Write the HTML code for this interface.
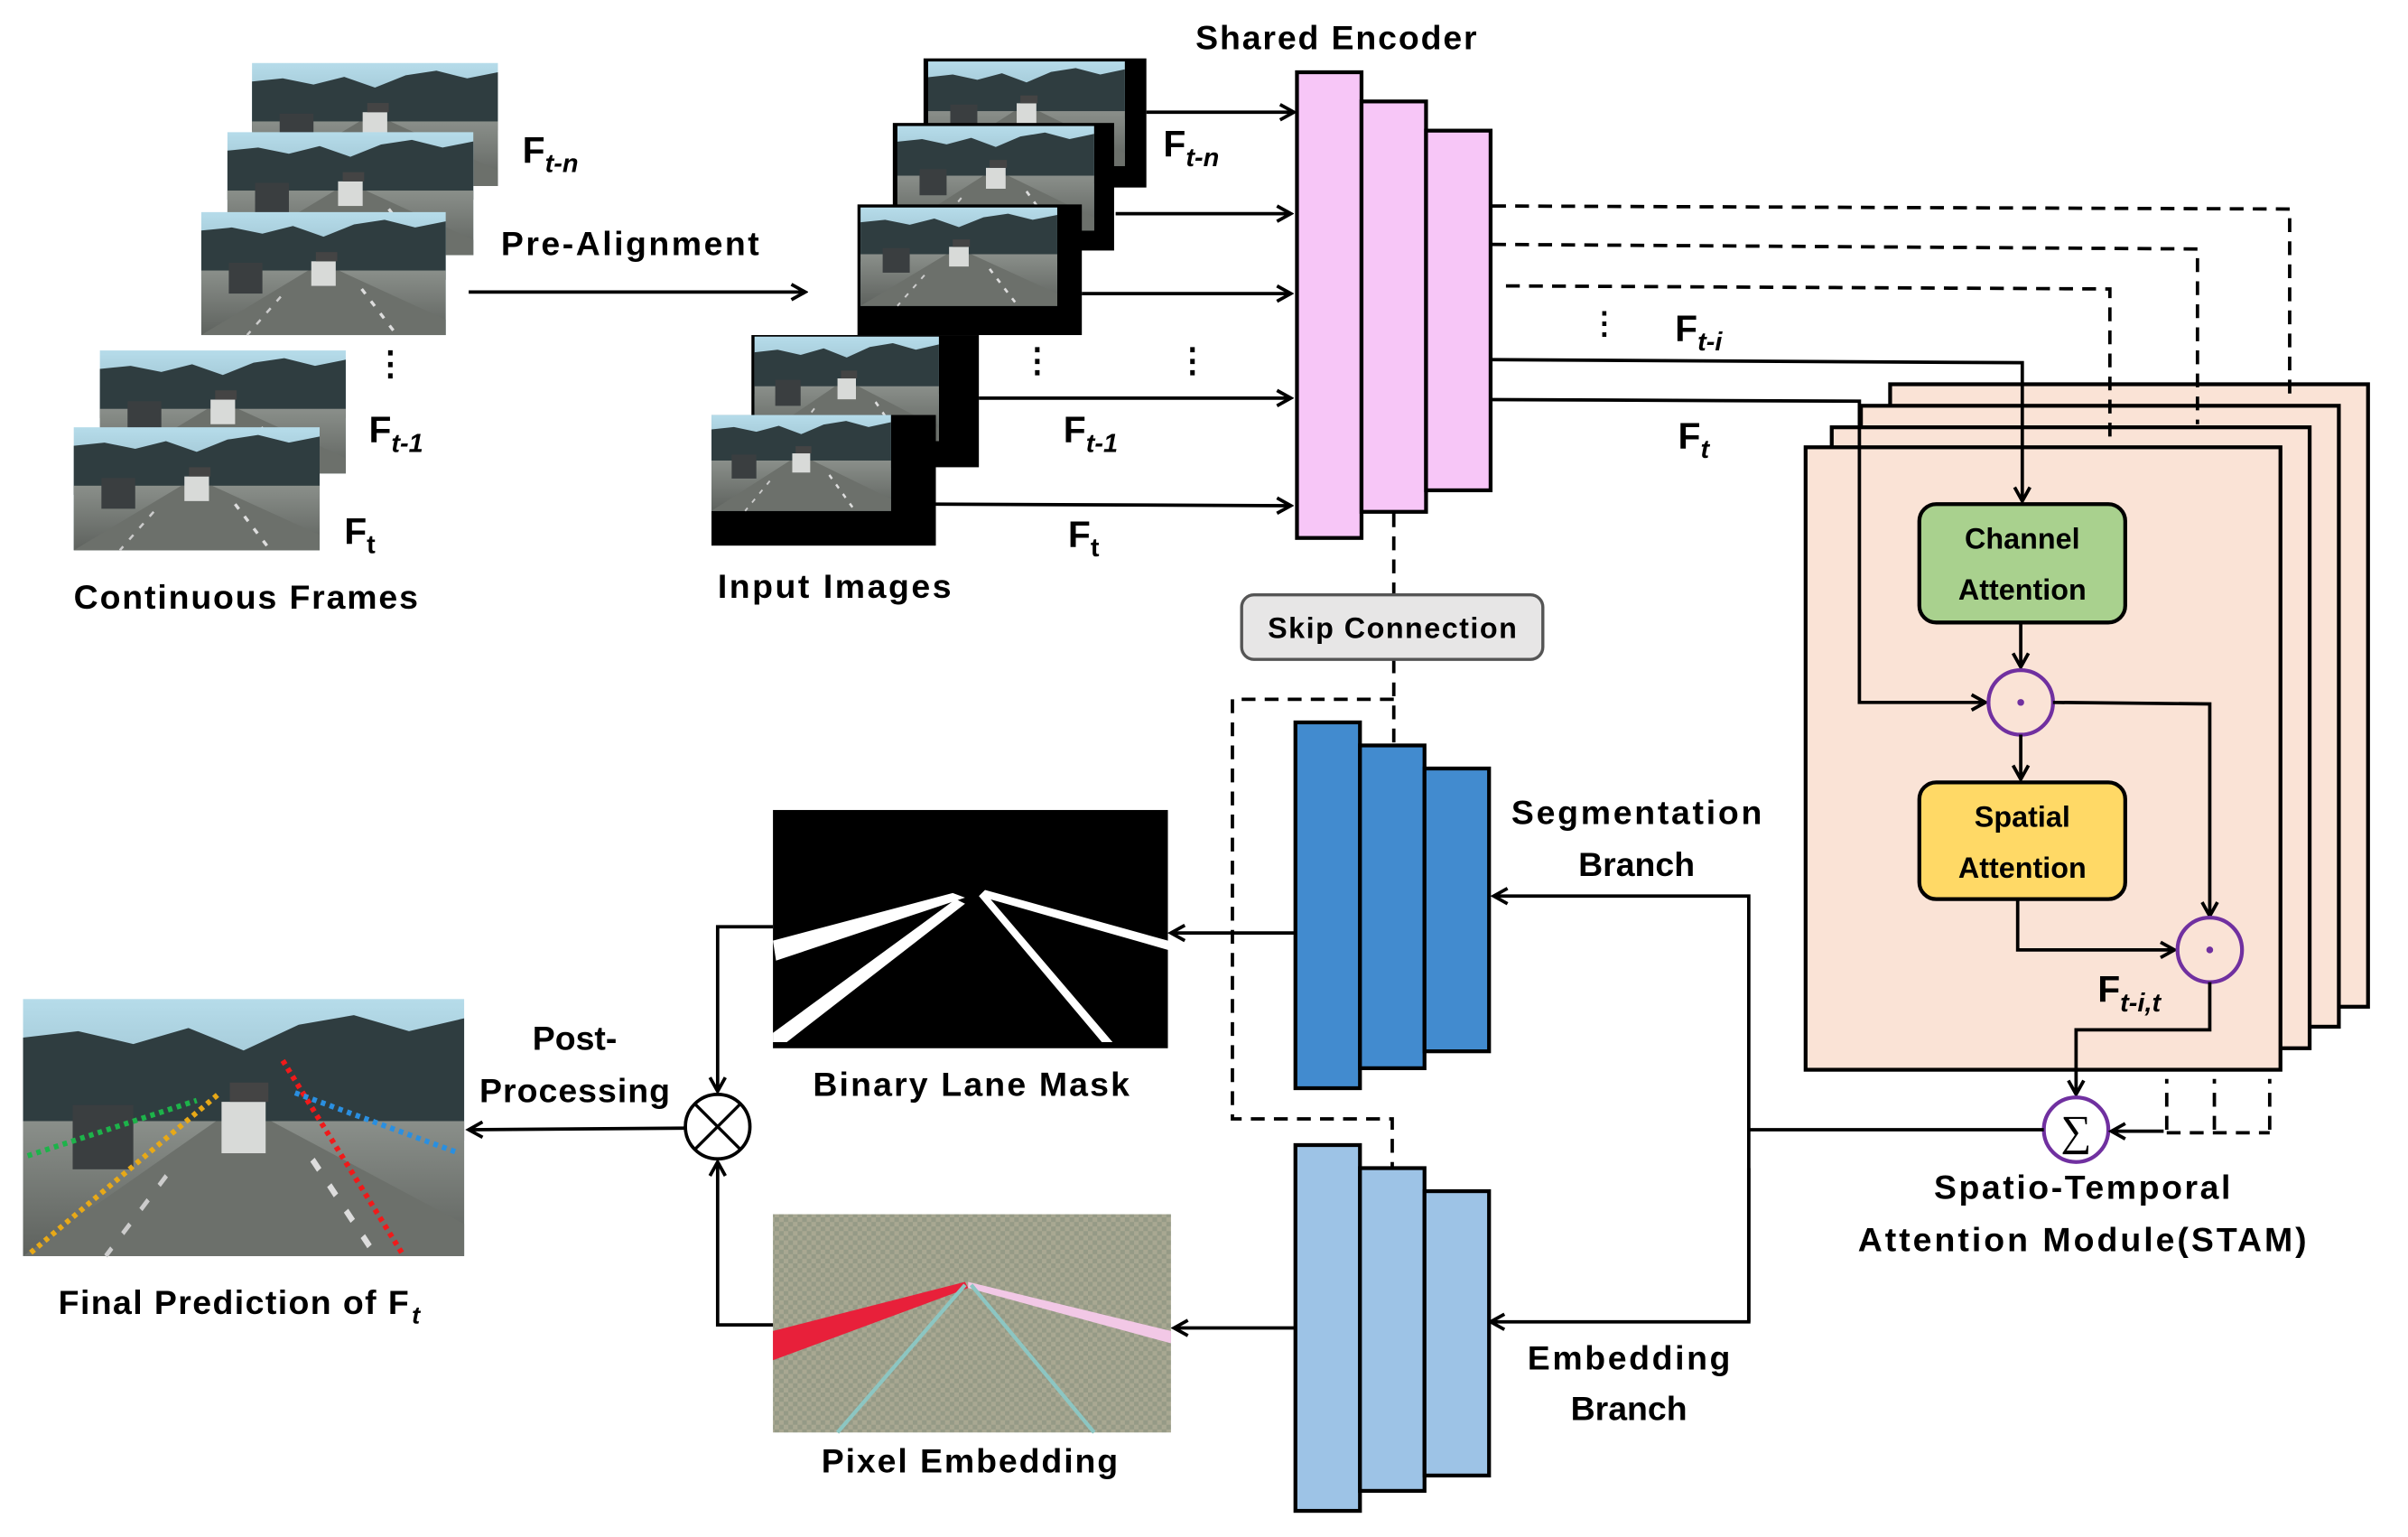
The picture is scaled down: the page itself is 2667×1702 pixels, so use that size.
<!DOCTYPE html>
<html><head><meta charset="utf-8"><style>
html,body{margin:0;padding:0;background:#fff;}
svg{display:block;}
text{font-family:"Liberation Sans",sans-serif;font-weight:bold;fill:#000;}
</style></head><body>
<svg width="2667" height="1702" viewBox="0 0 1567 1000" preserveAspectRatio="none" xmlns="http://www.w3.org/2000/svg">
<defs>
<linearGradient id="sky" x1="0" y1="0" x2="0" y2="1"><stop offset="0" stop-color="#b6dcea"/><stop offset="1" stop-color="#6f92a0"/></linearGradient>
<linearGradient id="road" x1="0" y1="0" x2="0" y2="1"><stop offset="0" stop-color="#8a8f8a"/><stop offset="1" stop-color="#5e625e"/></linearGradient>
<g id="photo">
<rect x="0" y="0" width="160" height="80" fill="url(#sky)"/>
<path d="M0 12 L20 10 L40 14 L60 9 L80 16 L100 8 L120 5 L140 10 L160 6 L160 44 L0 44Z" fill="#2f3d40"/>
<rect x="0" y="38" width="160" height="42" fill="url(#road)"/>
<path d="M0 80 L70 38 L90 38 L160 70 L160 80Z" fill="#6c706b"/>
<rect x="18" y="33" width="22" height="20" fill="#3a3e40"/>
<rect x="72" y="32" width="16" height="16" fill="#d8dad8"/>
<rect x="75" y="26" width="14" height="6" fill="#444"/>
<path d="M105 50 L128 80" stroke="#ddd" stroke-width="2" stroke-dasharray="4 6"/>
<path d="M52 55 L30 80" stroke="#ccc" stroke-width="1.5" stroke-dasharray="4 6"/>
</g>
<marker id="ah" markerWidth="12" markerHeight="12" refX="10" refY="6" orient="auto" markerUnits="userSpaceOnUse"><path d="M1 1 L10 6 L1 11" fill="none" stroke="#000" stroke-width="2.2"/></marker>
<pattern id="chk" width="6" height="6" patternUnits="userSpaceOnUse"><rect width="6" height="6" fill="#a9a892"/><rect width="3" height="3" fill="#959a86"/><rect x="3" y="3" width="3" height="3" fill="#959a86"/></pattern>
</defs>

<use href="#photo" transform="translate(164,41)"/>
<use href="#photo" transform="translate(148,86)"/>
<use href="#photo" transform="translate(131,138) scale(0.994,1)"/>
<use href="#photo" transform="translate(65,228)"/>
<use href="#photo" transform="translate(48,278)"/>
<text x="340" y="106" font-size="24">F<tspan font-size="17" font-style="italic" dy="6">t-n</tspan></text>
<text x="326" y="166" font-size="22" textLength="168">Pre-Alignment</text>
<line x1="305" y1="190" x2="524" y2="190" stroke="#000" stroke-width="2.2" marker-end="url(#ah)"/>
<text x="243" y="244" font-size="22">⋮</text>
<text x="240" y="288" font-size="24">F<tspan font-size="17" font-style="italic" dy="6">t-1</tspan></text>
<text x="224" y="354" font-size="24">F<tspan font-size="17" dy="6">t</tspan></text>
<text x="48" y="396" font-size="22" textLength="224">Continuous Frames</text>

<rect x="601" y="38" width="145" height="84" fill="#000"/>
<use href="#photo" transform="translate(604,40) scale(0.8,0.85)"/>
<rect x="581" y="80" width="144" height="83" fill="#000"/>
<use href="#photo" transform="translate(584,82) scale(0.8,0.85)"/>
<rect x="558" y="133" width="146" height="85" fill="#000"/>
<use href="#photo" transform="translate(560,135) scale(0.8,0.8)"/>
<rect x="489" y="218" width="148" height="86" fill="#000"/>
<use href="#photo" transform="translate(491,219) scale(0.75,0.85)"/>
<rect x="463" y="270" width="146" height="85" fill="#000"/>
<use href="#photo" transform="translate(463,270) scale(0.73,0.78)"/>
<line x1="746" y1="73" x2="842" y2="73" stroke="#000" stroke-width="2.2" marker-end="url(#ah)"/>
<line x1="726" y1="139" x2="840" y2="139" stroke="#000" stroke-width="2.2" marker-end="url(#ah)"/>
<line x1="704" y1="191" x2="840" y2="191" stroke="#000" stroke-width="2.2" marker-end="url(#ah)"/>
<line x1="637" y1="259" x2="840" y2="259" stroke="#000" stroke-width="2.2" marker-end="url(#ah)"/>
<line x1="609" y1="328" x2="840" y2="329" stroke="#000" stroke-width="2.2" marker-end="url(#ah)"/>
<text x="757" y="102" font-size="24">F<tspan font-size="17" font-style="italic" dy="6">t-n</tspan></text>
<text x="664" y="242" font-size="22">⋮</text>
<text x="765" y="242" font-size="22">⋮</text>
<text x="692" y="288" font-size="24">F<tspan font-size="17" font-style="italic" dy="6">t-1</tspan></text>
<text x="695" y="356" font-size="24">F<tspan font-size="17" dy="6">t</tspan></text>
<text x="467" y="389" font-size="22" textLength="152">Input Images</text>

<text x="778" y="32" font-size="22" textLength="183">Shared Encoder</text>
<rect x="844" y="47" width="42" height="303" fill="#f7c6f7" stroke="#000" stroke-width="2.5"/>
<rect x="886" y="66" width="42" height="267" fill="#f7c6f7" stroke="#000" stroke-width="2.5"/>
<rect x="928" y="85" width="42" height="234" fill="#f7c6f7" stroke="#000" stroke-width="2.5"/>

<rect x="1230" y="250" width="311" height="405" fill="#fae3d6" stroke="#000" stroke-width="2.5"/>
<rect x="1211" y="264" width="311" height="404" fill="#fae3d6" stroke="#000" stroke-width="2.5"/>
<rect x="1192" y="278" width="311" height="404" fill="#fae3d6" stroke="#000" stroke-width="2.5"/>
<rect x="1175" y="291" width="309" height="405" fill="#fae3d6" stroke="#000" stroke-width="2.5"/>

<g fill="none" stroke="#000" stroke-width="2.2" stroke-dasharray="9 6">
<path d="M971 134 L1490 136 L1490 256"/>
<path d="M971 159 L1430 162 L1430 276"/>
<path d="M980 186 L1373 188 L1373 290"/>
<path d="M907 334 L907 387"/>
<path d="M907 429 L907 485"/>
<path d="M907 455 L802 455 L802 728 L906 728 L906 760"/>
<path d="M1410 735 L1410 702 M1441 735 L1441 702 M1477 735 L1477 702 M1410 737 L1477 737"/>
</g>
<text x="1034" y="217" font-size="20">⋮</text>
<text x="1090" y="222" font-size="24">F<tspan font-size="17" font-style="italic" dy="6">t-i</tspan></text>
<text x="1092" y="292" font-size="24">F<tspan font-size="17" font-style="italic" dy="6">t</tspan></text>
<path d="M971 234 L1316 236 L1316 326" fill="none" stroke="#000" stroke-width="2.2" marker-end="url(#ah)"/>
<path d="M971 260 L1210 261 L1210 457 L1292 457" fill="none" stroke="#000" stroke-width="2.2" marker-end="url(#ah)"/>

<rect x="1249" y="328" width="134" height="77" rx="11" fill="#a9d18e" stroke="#000" stroke-width="2.5"/>
<text x="1316" y="357" font-size="19" text-anchor="middle">Channel</text>
<text x="1316" y="390" font-size="19" text-anchor="middle">Attention</text>
<line x1="1315" y1="405" x2="1315" y2="434" stroke="#000" stroke-width="2.2" marker-end="url(#ah)"/>
<circle cx="1315" cy="457" r="21" fill="none" stroke="#7030a0" stroke-width="2.5"/>
<circle cx="1315" cy="457" r="2.2" fill="#7030a0"/>
<line x1="1315" y1="478" x2="1315" y2="507" stroke="#000" stroke-width="2.2" marker-end="url(#ah)"/>
<path d="M1336 457 L1438 458 L1438 596" fill="none" stroke="#000" stroke-width="2.2" marker-end="url(#ah)"/>
<rect x="1249" y="509" width="134" height="76" rx="11" fill="#ffd966" stroke="#000" stroke-width="2.5"/>
<text x="1316" y="538" font-size="19" text-anchor="middle">Spatial</text>
<text x="1316" y="571" font-size="19" text-anchor="middle">Attention</text>
<path d="M1313 585 L1313 618 L1415 618" fill="none" stroke="#000" stroke-width="2.2" marker-end="url(#ah)"/>
<circle cx="1438" cy="618" r="21" fill="none" stroke="#7030a0" stroke-width="2.5"/>
<circle cx="1438" cy="618" r="2.2" fill="#7030a0"/>
<path d="M1438 639 L1438 670 L1351 670 L1351 712" fill="none" stroke="#000" stroke-width="2.2" marker-end="url(#ah)"/>
<text x="1365" y="652" font-size="24">F<tspan font-size="17" font-style="italic" dy="6">t-i,t</tspan></text>
<circle cx="1351" cy="735" r="21" fill="#fff" stroke="#7030a0" stroke-width="2.5"/>
<text x="1351" y="745" font-size="28" text-anchor="middle" style="font-family:'Liberation Serif',serif;font-weight:normal">∑</text>
<line x1="1408" y1="736" x2="1374" y2="736" stroke="#000" stroke-width="2.2" marker-end="url(#ah)"/>
<text x="1355" y="780" font-size="22" text-anchor="middle" textLength="193">Spatio-Temporal</text>
<text x="1355" y="814" font-size="22" text-anchor="middle" textLength="292">Attention Module(STAM)</text>

<path d="M1330 735 L1138 735" fill="none" stroke="#000" stroke-width="2.2"/>
<path d="M1138 860 L1138 583 L972 583" fill="none" stroke="#000" stroke-width="2.2" marker-end="url(#ah)"/>
<path d="M1138 760 L1138 860 L970 860" fill="none" stroke="#000" stroke-width="2.2" marker-end="url(#ah)"/>

<rect x="808" y="387" width="196" height="42" rx="8" fill="#e7e6e6" stroke="#555" stroke-width="2"/>
<text x="906" y="415" font-size="19" text-anchor="middle" textLength="162">Skip Connection</text>

<rect x="843" y="470" width="42" height="238" fill="#428bcf" stroke="#000" stroke-width="2.5"/>
<rect x="885" y="485" width="42" height="210" fill="#428bcf" stroke="#000" stroke-width="2.5"/>
<rect x="927" y="500" width="42" height="184" fill="#428bcf" stroke="#000" stroke-width="2.5"/>
<rect x="843" y="745" width="42" height="238" fill="#9dc3e6" stroke="#000" stroke-width="2.5"/>
<rect x="885" y="760" width="42" height="210" fill="#9dc3e6" stroke="#000" stroke-width="2.5"/>
<rect x="927" y="775" width="42" height="185" fill="#9dc3e6" stroke="#000" stroke-width="2.5"/>
<text x="1065" y="536" font-size="22" text-anchor="middle" textLength="163">Segmentation</text>
<text x="1065" y="570" font-size="22" text-anchor="middle">Branch</text>
<text x="1060" y="891" font-size="22" text-anchor="middle" textLength="132">Embedding</text>
<text x="1060" y="924" font-size="22" text-anchor="middle">Branch</text>

<rect x="503" y="527" width="257" height="155" fill="#000"/>
<g fill="#fff">
<polygon points="503,612 620,581 628,584 505,625"/>
<polygon points="503,672 622,585 628,588 512,678 503,678"/>
<polygon points="641,579 760,612 760,618 637,583"/>
<polygon points="637,583 642,582 724,678 717,678"/>
</g>
<line x1="842" y1="607" x2="762" y2="607" stroke="#000" stroke-width="2.2" marker-end="url(#ah)"/>
<text x="632" y="713" font-size="22" text-anchor="middle" textLength="206">Binary Lane Mask</text>

<rect x="503" y="790" width="259" height="142" fill="url(#chk)"/>
<polygon points="503,866 628,834 630,838 503,885" fill="#e8203a"/>
<polygon points="630,834 762,866 762,874 630,838" fill="#f2c8e6"/>
<line x1="628" y1="836" x2="545" y2="932" stroke="#8cc6c2" stroke-width="2.5"/>
<line x1="632" y1="836" x2="712" y2="932" stroke="#8cc6c2" stroke-width="2.5"/>
<line x1="842" y1="864" x2="764" y2="864" stroke="#000" stroke-width="2.2" marker-end="url(#ah)"/>
<text x="631" y="958" font-size="22" text-anchor="middle" textLength="193">Pixel Embedding</text>

<path d="M503 603 L467 603 L467 710" fill="none" stroke="#000" stroke-width="2.2" marker-end="url(#ah)"/>
<path d="M503 862 L467 862 L467 756" fill="none" stroke="#000" stroke-width="2.2" marker-end="url(#ah)"/>
<circle cx="467" cy="733" r="21" fill="#fff" stroke="#000" stroke-width="2.2"/>
<path d="M452 718 L482 748 M482 718 L452 748" stroke="#000" stroke-width="2"/>
<line x1="446" y1="734" x2="305" y2="735" stroke="#000" stroke-width="2.2" marker-end="url(#ah)"/>
<text x="374" y="683" font-size="22" text-anchor="middle">Post-</text>
<text x="374" y="717" font-size="22" text-anchor="middle" textLength="124">Processing</text>

<use href="#photo" transform="translate(15,650) scale(1.794,2.09)"/>
<g stroke-width="3.5" stroke-dasharray="3 3" fill="none">
<line x1="18" y1="752" x2="128" y2="716" stroke="#1db34a"/>
<line x1="20" y1="815" x2="142" y2="712" stroke="#e8a917"/>
<line x1="184" y1="690" x2="262" y2="816" stroke="#f01a1a"/>
<line x1="192" y1="711" x2="298" y2="750" stroke="#2a8fe0"/>
</g>
<text x="38" y="855" font-size="22" textLength="228">Final Prediction of F</text>
<text x="268" y="861" font-size="16" font-style="italic">t</text>
</svg>
</body></html>
